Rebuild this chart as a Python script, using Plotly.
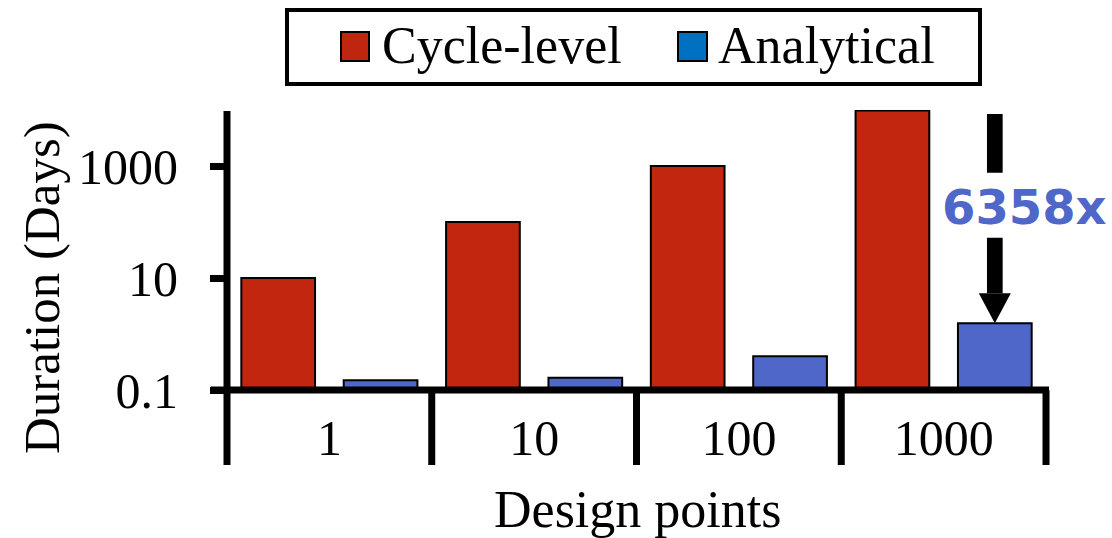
import math
import plotly.graph_objects as go

# ---------------- data ----------------
categories = ["1", "10", "100", "1000"]
series_names = ["Cycle-level", "Analytical"]
cycle_level = [10, 100, 1000, 9800]
analytical = [0.15, 0.165, 0.40, 1.55]
y_tickvals = [0.1, 10, 1000]
y_ticktext = ["0.1", "10", "1000"]
speedup_label = "6358x"
x_title = "Design points"
y_title = "Duration (Days)"

# ---------------- style ----------------
RED = "#C2260E"
BLUE = "#4F67C8"
LEG_RED = "#C0260F"
LEG_BLUE = "#0070C0"
SERIF = "Liberation Serif"

OFF = 0  # body margin removed below, figure origin at window (0, 0)
W, H = 1112, 538
L, R, T, B = 227, 66, 110, 148
PW = W - L - R
PH = H - T - B
YMIN, YMAX = -1, 4


def px_x(px):
    """window pixel x -> paper x"""
    return (px - OFF - L) / PW


def px_y(py):
    """window pixel y -> paper y"""
    return (H - B - (py - OFF)) / PH


def val_y(v):
    return (math.log10(v) - YMIN) / (YMAX - YMIN)


def cat_x(i, off=0.0):
    return (i + 0.5 + off) / len(categories)


fig = go.Figure()
fig.add_trace(go.Bar(x=categories, y=cycle_level, name=series_names[0],
                     marker=dict(color=RED, line=dict(color="black", width=2))))
fig.add_trace(go.Bar(x=categories, y=analytical, name=series_names[1],
                     marker=dict(color=BLUE, line=dict(color="black", width=2))))

shapes = []
# y-axis line (extends down as first separator)
shapes.append(dict(type="line", xref="paper", yref="paper", x0=0, x1=0,
                   y0=px_y(465), y1=px_y(111), line=dict(color="black", width=7)))
# category separators below baseline
for k in range(1, len(categories) + 1):
    xp = k / len(categories)
    shapes.append(dict(type="line", xref="paper", yref="paper", x0=xp, x1=xp,
                       y0=px_y(465), y1=0, line=dict(color="black", width=7)))
# baseline
shapes.append(dict(type="line", xref="paper", yref="paper", x0=px_x(211), x1=px_x(1049),
                   y0=0, y1=0, line=dict(color="black", width=7)))

# arrow (from cycle-level bar height down to analytical bar of last group)
ax_c = cat_x(3, 0.25)
hw = 7.85 / PW
hh = 16 / PW
shapes.append(dict(type="rect", xref="paper", yref="paper", x0=ax_c - hw, x1=ax_c + hw,
                   y0=px_y(172.7), y1=px_y(114), fillcolor="black", line=dict(width=0)))
shapes.append(dict(type="rect", xref="paper", yref="paper", x0=ax_c - hw, x1=ax_c + hw,
                   y0=px_y(293.3), y1=px_y(237.7), fillcolor="black", line=dict(width=0)))
tip = val_y(analytical[3])
shapes.append(dict(type="path", xref="paper", yref="paper",
                   path=f"M{ax_c - hh},{px_y(293.3)} L{ax_c + hh},{px_y(293.3)} L{ax_c},{tip} Z",
                   fillcolor="black", line=dict(width=0)))

# legend box and swatches
shapes.append(dict(type="rect", xref="paper", yref="paper", x0=px_x(287), x1=px_x(980),
                   y0=px_y(84), y1=px_y(10), fillcolor="white", line=dict(color="black", width=4)))
shapes.append(dict(type="rect", xref="paper", yref="paper", x0=px_x(341), x1=px_x(369),
                   y0=px_y(61), y1=px_y(32), fillcolor=LEG_RED, line=dict(color="black", width=2)))
shapes.append(dict(type="rect", xref="paper", yref="paper", x0=px_x(678), x1=px_x(707),
                   y0=px_y(61), y1=px_y(32), fillcolor=LEG_BLUE, line=dict(color="black", width=2)))

annotations = [
    dict(text=series_names[0], xref="paper", yref="paper", x=px_x(380), y=px_y(46),
         xanchor="left", yanchor="middle", showarrow=False,
         font=dict(family=SERIF, size=52, color="black")),
    dict(text=series_names[1], xref="paper", yref="paper", x=px_x(716), y=px_y(46),
         xanchor="left", yanchor="middle", showarrow=False,
         font=dict(family=SERIF, size=52, color="black")),
    dict(text=f"<b>{speedup_label}</b>", xref="paper", yref="paper", x=px_x(1024), y=px_y(207),
         xanchor="center", yanchor="middle", showarrow=False,
         font=dict(family="DejaVu Sans", size=48, color=BLUE)),
    dict(text=y_title, xref="paper", yref="paper", x=px_x(42), y=px_y(288),
         xanchor="center", yanchor="middle", textangle=-90, showarrow=False,
         font=dict(family=SERIF, size=51, color="black")),
    dict(text=x_title, xref="paper", yref="paper", x=px_x(637), y=px_y(509),
         xanchor="center", yanchor="middle", showarrow=False,
         font=dict(family=SERIF, size=52, color="black")),
]

fig.update_layout(
    width=W, height=H,
    margin=dict(l=L, r=R, t=T, b=B, pad=0),
    paper_bgcolor="white", plot_bgcolor="white",
    barmode="group", bargap=0, bargroupgap=0.28,
    showlegend=False,
    shapes=shapes, annotations=annotations,
    xaxis=dict(type="category", showline=False, showgrid=False, zeroline=False,
               ticks="", tickfont=dict(family=SERIF, size=50, color="black"),
               ticklabelstandoff=14),
    yaxis=dict(type="log", range=[YMIN, YMAX], tickvals=y_tickvals, ticktext=y_ticktext,
               showline=False, showgrid=False, zeroline=False,
               ticks="outside", ticklen=16, tickwidth=7, tickcolor="black",
               tickfont=dict(family=SERIF, size=50, color="black"),
               ticklabelstandoff=22),
)

fig.write_html("out.html",
               config={"displayModeBar": False},
               post_script="document.body.style.margin='0px';document.body.style.overflow='hidden';")
